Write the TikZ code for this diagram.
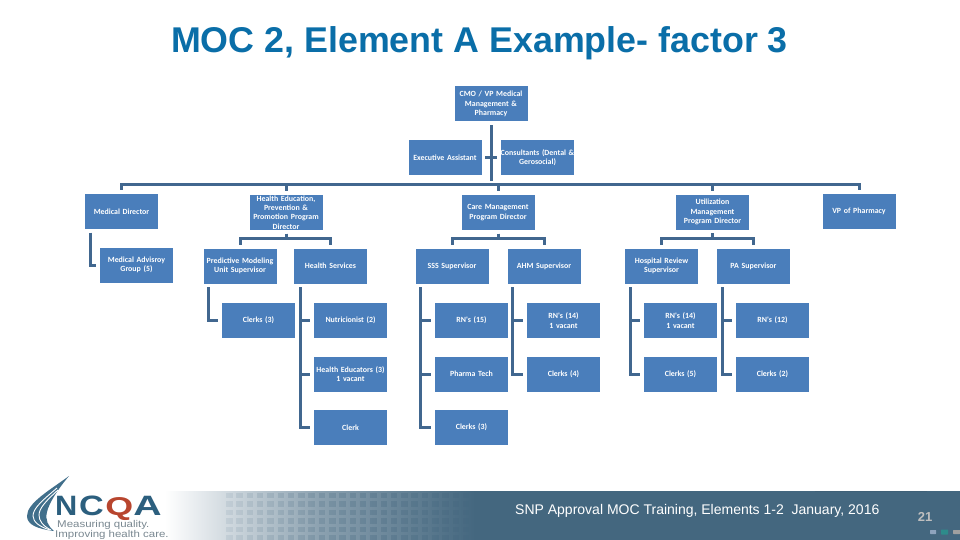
\documentclass[tikz,border=0pt]{standalone}
\usepackage{fontspec}
\setmainfont{Liberation Sans}
\newfontfamily\boxfont{Carlito}
\usetikzlibrary{calc}
\definecolor{boxblue}{HTML}{4A7EBB}
\definecolor{linkblue}{HTML}{41678F}
\definecolor{titleblue}{HTML}{0A6EA8}
\definecolor{bandblue}{HTML}{44677F}
\definecolor{logoblue}{HTML}{2C5F7E}
\definecolor{logored}{HTML}{B8452E}
\definecolor{logogray}{HTML}{7A8891}
\definecolor{dotblue}{HTML}{8EA3BD}
\definecolor{dotteal}{HTML}{2E8B8B}
\definecolor{dotgray}{HTML}{A0A0A0}
\tikzset{
  x=1pt,y=-1pt,
  orgbox/.style={rectangle,fill=boxblue,draw=none,inner xsep=-1.5pt,inner ysep=0pt,minimum width=73pt,minimum height=35pt,
    text=white,align=center,font=\boxfont\bfseries\fontsize{7.9}{9.3}\selectfont,text width=76pt},
  link/.style={draw=linkblue,line width=3pt,shorten <=3.5pt,shorten >=3.5pt,line cap=butt,line join=miter},
  logoletter/.style={anchor=base west,inner sep=0pt,font=\bfseries\fontsize{28}{28}\selectfont},
  logotag/.style={anchor=base west,inner sep=0pt,text=logogray,xscale=1.17,font=\fontsize{9.8}{11}\selectfont},
}
\begin{document}
\begin{tikzpicture}
\useasboundingbox (0,0) rectangle (960,540);
\fill[white] (0,0) rectangle (960,540);
% footer band
\shade[left color=white,right color=bandblue,middle color=bandblue!62!white,shading angle=90] (165,491) rectangle (475,540);
\fill[bandblue] (474,491) rectangle (960,540);
\foreach \col in {0,...,23}{
  \pgfmathsetmacro{\op}{min(0.30,0.10+0.014*\col)}
  \foreach \row in {0,...,5}{
    \fill[bandblue,opacity=\op] ({226+10.3*\col},{493+8.4*\row}) rectangle ++(6.5,5.4);
  }
}
\fill[black!45!bandblue,opacity=0.12] (815,491) rectangle (927,491.8);
% logo
\fill[logoblue!90] (69,476) .. controls (50,490) and (27,503) .. (27,516) .. controls (27,525) and (38,529) .. (54,531)
  .. controls (48,526) and (45,520) .. (47,512) .. controls (49,503) and (58,489) .. (69,476) -- cycle;
\draw[white,line width=0.9pt] (57,488) .. controls (43,500) and (33,508) .. (33,516) .. controls (33,522) and (40,527) .. (50,530);
\draw[white,line width=0.9pt] (58,490) .. controls (47,500) and (39,508) .. (39,515) .. controls (39,521) and (43,526) .. (51,530);
\node[logoletter,xscale=1.1,text=logoblue] (logoN) at (55,515) {N};
\node[logoletter,xscale=1.22,text=logoblue] (logoC) at (79,515) {C};
\node[logoletter,xscale=1.28,yscale=0.92,text=logored] (logoQ) at (105,515) {Q};
\node[logoletter,xscale=1.4,text=logoblue] (logoA) at (133,515) {A};
\node[logotag] (logoT1) at (57,527) {Measuring quality.};
\node[logotag] (logoT2) at (55,537.5) {Improving health care.};
% title
\node[anchor=base,inner sep=0pt,text=titleblue,font=\bfseries\fontsize{35.8}{38}\selectfont] (title) at (479.5,53) {MOC 2, Element A Example- factor 3};
% footer texts
\node[anchor=base west,inner sep=0pt,text=white,font=\fontsize{14}{16}\selectfont] (foot) at (515,514) {SNP Approval MOC Training, Elements 1-2\ \ January, 2016};
\node[anchor=base,inner sep=0pt,text=black!25,font=\bfseries\fontsize{13}{14}\selectfont] (pageno) at (925,521) {21};
\fill[rounded corners=0.5pt,fill=dotblue] (930,530) rectangle (936,534);
\fill[rounded corners=0.5pt,fill=dotteal] (941,529.5) rectangle (948,534.5);
\fill[rounded corners=0.5pt,fill=dotgray] (953,530) rectangle (960,534);
% boxes
\node[orgbox] (cmo) at (491,104) {CMO / VP Medical\\Management \&\\Pharmacy};
\node[orgbox] (exec) at (445,158) {Executive Assistant};
\node[orgbox] (cons) at (537.5,158) {Consultants (Dental \&\\Gerosocial)};
\node[orgbox] (mdir) at (121.5,211.5) {Medical Director};
\node[orgbox] (hed) at (286,212.5) {Health Education,\\Prevention \&\\Promotion Program\\Director};
\node[orgbox] (care) at (498,212.5) {Care Management\\Program Director};
\node[orgbox] (um) at (712.5,212) {Utilization\\Management\\Program Director};
\node[orgbox] (vp) at (859,211.5) {VP of Pharmacy};
\node[orgbox] (adv) at (136.5,265) {Medical Advisroy\\Group (5)};
\node[orgbox] (pred) at (240,266) {Predictive Modeling\\Unit Supervisor};
\node[orgbox] (hs) at (330.5,266) {Health Services};
\node[orgbox] (sss) at (452,266) {SSS Supervisor};
\node[orgbox] (ahm) at (544,266) {AHM Supervisor};
\node[orgbox] (hosp) at (661.5,266) {Hospital Review\\Supervisor};
\node[orgbox] (pa) at (753.5,266) {PA Supervisor};
\node[orgbox] (cl3a) at (258.5,320.5) {Clerks (3)};
\node[orgbox] (nut) at (350.5,320.5) {Nutricionist (2)};
\node[orgbox] (rn15) at (471.5,320.5) {RN's (15)};
\node[orgbox] (rn14a) at (563.5,320.5) {RN's (14)\\1 vacant};
\node[orgbox] (rn14b) at (680.5,320.5) {RN's (14)\\1 vacant};
\node[orgbox] (rn12) at (772.5,320.5) {RN's (12)};
\node[orgbox] (hedu) at (350.5,374) {Health Educators (3)\\1 vacant};
\node[orgbox] (phar) at (471.5,374) {Pharma Tech};
\node[orgbox] (cl4) at (563.5,374) {Clerks (4)};
\node[orgbox] (cl5) at (680.5,374) {Clerks (5)};
\node[orgbox] (cl2) at (772.5,374) {Clerks (2)};
\node[orgbox] (clerk) at (350.5,427.5) {Clerk};
\node[orgbox] (cl3b) at (471.5,427.5) {Clerks (3)};
% connectors
\coordinate (bus) at (491,184.7);
\path[link] (cmo.south) -- (bus);
\path[link] (exec.east) -- (cons.west);
\foreach \t in {mdir,hed,care,um,vp}{
  \draw[link,shorten <=0pt] (bus) -| (\t.north);
}
\draw[link] (hed.south) -- ++(0,8.7) -| (pred.north);
\draw[link] (hed.south) -- ++(0,8.7) -| (hs.north);
\draw[link] (care.south) -- ++(0,8.2) -| (sss.north);
\draw[link] (care.south) -- ++(0,8.2) -| (ahm.north);
\draw[link] (um.south) -- ++(0,8.5) -| (hosp.north);
\draw[link] (um.south) -- ++(0,8.5) -| (pa.north);
\draw[link] ($(mdir.south west)+(6,0)$) |- (adv.west);
\draw[link] ($(pred.south west)+(5.5,0)$) |- (cl3a.west);
\foreach \t in {nut,hedu,clerk}{\draw[link] ($(hs.south west)+(6.7,0)$) |- (\t.west);}
\foreach \t in {rn15,phar,cl3b}{\draw[link] ($(sss.south west)+(5.5,0)$) |- (\t.west);}
\foreach \t in {rn14a,cl4}{\draw[link] ($(ahm.south west)+(5.5,0)$) |- (\t.west);}
\foreach \t in {rn14b,cl5}{\draw[link] ($(hosp.south west)+(6,0)$) |- (\t.west);}
\foreach \t in {rn12,cl2}{\draw[link] ($(pa.south west)+(6,0)$) |- (\t.west);}
\end{tikzpicture}
\end{document}
